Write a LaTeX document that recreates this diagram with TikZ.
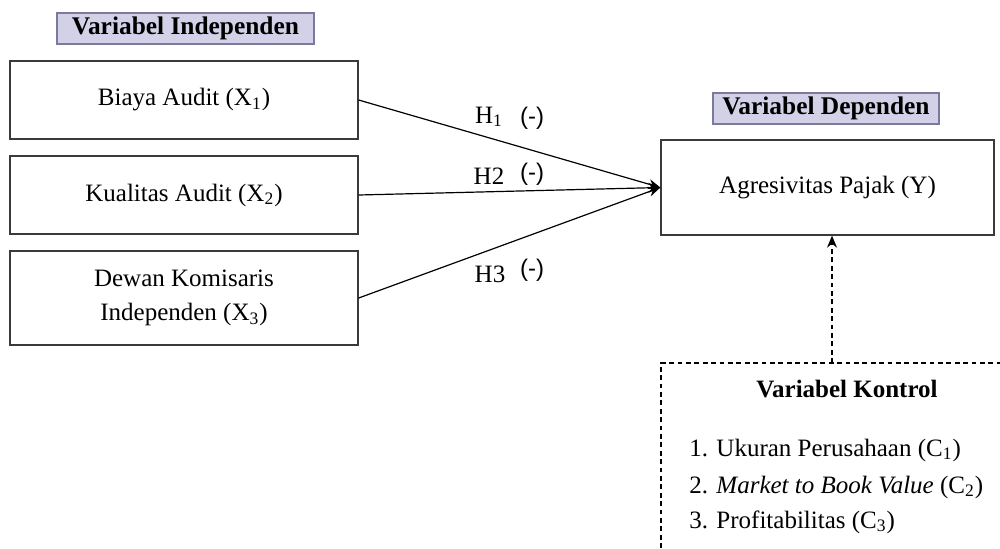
\documentclass[tikz,border=0pt]{standalone}
\usepackage{fontspec}
\setmainfont{Liberation Serif}
\newfontfamily\lsans{Liberation Sans}
\usetikzlibrary{arrows.meta}
\definecolor{hdrfill}{HTML}{D3D1E8}
\definecolor{hdrdraw}{HTML}{7C7A9C}
\definecolor{boxdraw}{HTML}{3A3A3A}
\begin{document}
\begin{tikzpicture}[x=0.5pt,y=-0.5pt,
  every node/.style={font=\fontsize{12.5}{15}\selectfont, inner sep=0pt},
  varbox/.style={draw=boxdraw, line width=0.65pt, fill=white, align=center},
  hdr/.style={draw=hdrdraw, line width=0.6pt, fill=hdrfill, font=\fontsize{12.7}{15}\selectfont\bfseries},
  link/.style={line width=0.6pt, -{Stealth[length=6pt,width=5pt]}},
  ctl/.style={line width=0.6pt, dash pattern=on 2.4pt off 1.8pt},
  hlab/.style={font=\fontsize{12.5}{15}\selectfont},
  sgn/.style={font=\fontsize{12}{14}\selectfont\lsans}]
\useasboundingbox (0,0) rectangle (1000,548);
% headers
\node[hdr, minimum width=128.5pt, minimum height=15.5pt] (hind) at (185.5,28.5) {Variabel Independen};
\node[hdr, minimum width=113pt, minimum height=15.5pt] (hdep) at (826,108.5) {Variabel Dependen};
% independent boxes
\node[varbox, minimum width=174pt, minimum height=39pt] (x1) at (184,100) {Biaya Audit (X\textsubscript{1})};
\node[varbox, minimum width=174pt, minimum height=39pt] (x2) at (184,195) {Kualitas Audit (X\textsubscript{2})};
\node[varbox, minimum width=174pt, minimum height=47pt] (x3) at (184,298) {Dewan Komisaris\\[2pt]Independen (X\textsubscript{3})};
% dependent box
\node[varbox, minimum width=166.5pt, minimum height=47.5pt] (y) at (827.5,187.5) {Agresivitas Pajak (Y)};
% arrows
\draw[link] (x1.east) -- (y.west);
\draw[link] (x2.east) -- (y.west);
\draw[link] (x3.east) -- (y.west);
% hypothesis labels
\node[hlab] (h1) at (489,117) {H\textsubscript{1}};
\node[sgn] (s1) at (532,118) {(-)};
\node[hlab] (h2) at (489,176) {H2};
\node[sgn] (s2) at (532,174) {(-)};
\node[hlab] (h3) at (490,274) {H3};
\node[sgn] (s3) at (532,270) {(-)};
% control box (cropped)
\coordinate (cbl) at (661,548);
\coordinate (ctl) at (661,363);
\coordinate (ctr) at (1000,363);
\coordinate (cup) at (832,363);
\draw[ctl] (cbl) -- (ctl) -- (ctr);
\draw[ctl, -{Stealth[length=6pt,width=5pt]}] (cup) -- (y.south -| cup);
\node[font=\fontsize{12.5}{15}\selectfont\bfseries] (kt) at (847,389) {Variabel Kontrol};
\node[anchor=west] (c1) at (689,450) {1. Ukuran Perusahaan (C\textsubscript{1})};
\node[anchor=west] (c2) at (689,487) {2. \textit{Market to Book Value} (C\textsubscript{2})};
\node[anchor=west] (c3) at (689,522) {3. Profitabilitas (C\textsubscript{3})};
\end{tikzpicture}
\end{document}
